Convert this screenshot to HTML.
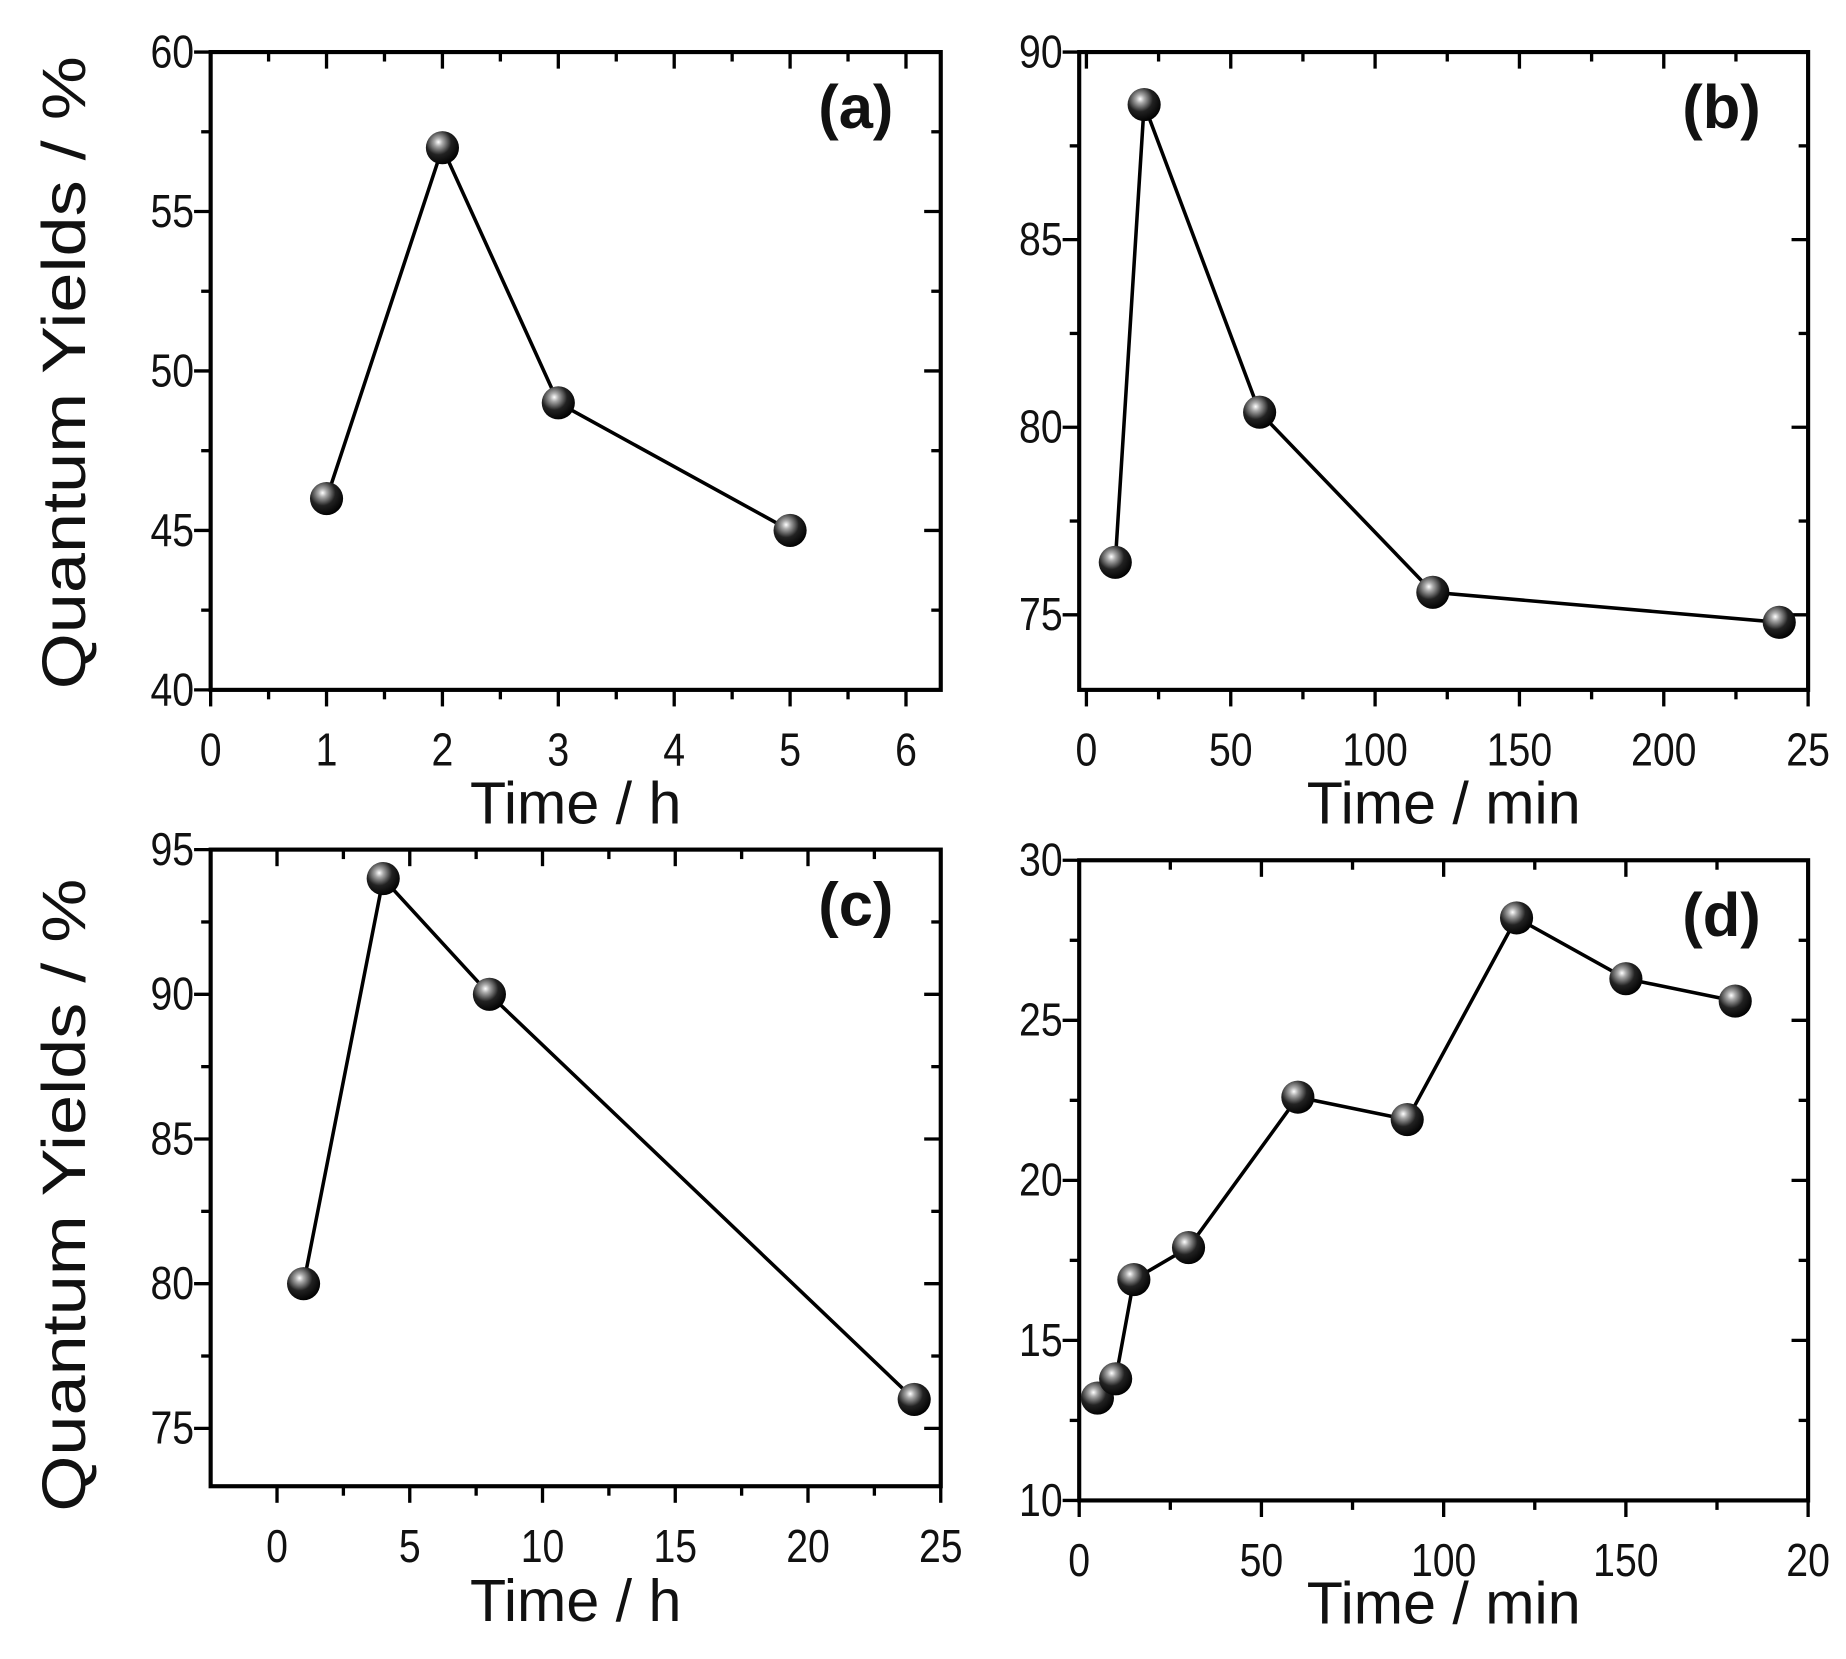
<!DOCTYPE html>
<html><head><meta charset="utf-8"><style>
html,body{margin:0;padding:0;background:#fff;overflow:hidden}
svg{display:block}
text{font-family:"Liberation Sans",Arial,sans-serif;fill:#111}
</style></head><body>
<svg id="fig" width="1846" height="1659" viewBox="0 0 1560 1402" xmlns="http://www.w3.org/2000/svg">
<defs>
<radialGradient id="ball" cx="0.38" cy="0.33" r="0.7">
<stop offset="0" stop-color="#ffffff"/><stop offset="0.18" stop-color="#aaaaaa"/><stop offset="0.55" stop-color="#222"/><stop offset="1" stop-color="#000"/>
</radialGradient>
</defs>
</svg>
<script>
// Panel (a)
const aX=[1,2,3,5];
const aY=[46,57,49,45];
const aXTicks=["0","1","2","3","4","5","6"];
const aYTicks=["40","45","50","55","60"];
// Panel (b)
const bX=[10,20,60,120,240];
const bY=[76.4,88.6,80.4,75.6,74.8];
const bXTicks=["0","50","100","150","200","25"];
const bYTicks=["75","80","85","90"];
// Panel (c)
const cX=[1,4,8,24];
const cY=[80,94,90,76];
const cXTicks=["0","5","10","15","20","25"];
const cYTicks=["75","80","85","90","95"];
// Panel (d)
const dX=[5,10,15,30,60,90,120,150,180];
const dY=[13.2,13.8,16.9,17.9,22.6,21.9,28.2,26.3,25.6];
const dXTicks=["0","50","100","150","20"];
const dYTicks=["10","15","20","25","30"];

const svg=document.getElementById('fig');
const NS='http://www.w3.org/2000/svg';
function mk(tag,attrs,parent){const e=document.createElementNS(NS,tag);for(const k in attrs)e.setAttribute(k,attrs[k]);parent.appendChild(e);return e;}

function panel(cfg){
  const g=mk('g',{},svg);
  
  
  const {L,R,T,B,x0,x1,y0,y1}=cfg;
  const sx=v=>L+(v-x0)/(x1-x0)*(R-L);
  const sy=v=>B-(v-y0)/(y1-y0)*(B-T);
  const box=mk('rect',{x:L,y:T,width:R-L,height:B-T,fill:'none',stroke:'#000','stroke-width':3.5},g);
  
  
  for(let v=cfg.xs;v<=x1+1e-9;v+=cfg.xmin){
    const isMaj=Math.abs(((v-cfg.xs)/cfg.xmaj)-Math.round((v-cfg.xs)/cfg.xmaj))<1e-6;
    const len=isMaj?14:8;const x=sx(v);
    mk('line',{x1:x,x2:x,y1:B,y2:B+len,stroke:'#000','stroke-width':2.8},g);
    mk('line',{x1:x,x2:x,y1:T,y2:T+len,stroke:'#000','stroke-width':2.8},g);
  }
  cfg.xLabels.forEach((lab,i)=>{
    const t=mk('text',{x:0,y:0,'font-size':39,'text-anchor':'middle',transform:'translate('+sx(cfg.xs+i*cfg.xmaj)+','+(B+64)+') scale(0.85,1)'},g);
    t.textContent=lab;
    
    
  });
  for(let v=cfg.ys;v<=y1+1e-9;v+=cfg.ymin){
    const isMaj=Math.abs(((v-cfg.ys)/cfg.ymaj)-Math.round((v-cfg.ys)/cfg.ymaj))<1e-6;
    const len=isMaj?14:8;const y=sy(v);
    mk('line',{x1:L-len,x2:L,y1:y,y2:y,stroke:'#000','stroke-width':2.8},g);
    mk('line',{x1:R-len,x2:R,y1:y,y2:y,stroke:'#000','stroke-width':2.8},g);
  }
  cfg.yLabels.forEach((lab,i)=>{
    const t=mk('text',{x:0,y:0,'font-size':39,'text-anchor':'end',transform:'translate('+(L-14)+','+(sy(cfg.ys+i*cfg.ymaj)+13)+') scale(0.85,1)'},g);
    t.textContent=lab;
    
    
  });
  const pts=cfg.X.map((x,i)=>sx(x)+','+sy(cfg.Y[i])).join(' ');
  const line=mk('polyline',{points:pts,fill:'none',stroke:'#000','stroke-width':3},g);
  
  
  cfg.X.forEach((x,i)=>{
    const c=mk('circle',{cx:sx(x),cy:sy(cfg.Y[i]),r:14,fill:'url(#ball)'},g);
    
    
  });
  const pl=mk('text',{x:R-40,y:T+64,'font-size':52,'font-weight':'bold','text-anchor':'end'},g);
  pl.textContent='('+cfg.id+')';
  
  
  const xt=mk('text',{x:(L+R)/2,y:cfg.titleY,'font-size':50,'text-anchor':'middle'},g);
  xt.textContent=cfg.xTitle;
  
  
}

panel({id:'a',L:178,R:795,T:44,B:583,x0:0,x1:6.3,y0:40,y1:60,xs:0,xmaj:1,xmin:0.5,ys:40,ymaj:5,ymin:2.5,xLabels:aXTicks,yLabels:aYTicks,X:aX,Y:aY,xTitle:'Time / h',titleY:696});
panel({id:'b',L:912,R:1528,T:44,B:583,x0:-2.5,x1:250,y0:73,y1:90,xs:0,xmaj:50,xmin:25,ys:75,ymaj:5,ymin:2.5,xLabels:bXTicks,yLabels:bYTicks,X:bX,Y:bY,xTitle:'Time / min',titleY:696});
panel({id:'c',L:178,R:795,T:718,B:1256,x0:-2.5,x1:25,y0:73,y1:95,xs:0,xmaj:5,xmin:2.5,ys:75,ymaj:5,ymin:2.5,xLabels:cXTicks,yLabels:cYTicks,X:cX,Y:cY,xTitle:'Time / h',titleY:1370});
panel({id:'d',L:912,R:1528,T:727,B:1268,x0:0,x1:200,y0:10,y1:30,xs:0,xmaj:50,xmin:25,ys:10,ymaj:5,ymin:2.5,xLabels:dXTicks,yLabels:dYTicks,X:dX,Y:dY,xTitle:'Time / min',titleY:1372});

[[315],[1010]].forEach(([cy])=>{
  const t=mk('text',{x:0,y:0,'font-size':52,'text-anchor':'middle',transform:'translate(72,'+cy+') rotate(-90)',textLength:535,lengthAdjust:'spacingAndGlyphs'},svg);
  t.textContent='Quantum Yields / %';
  
  
});
</script>
</body></html>
